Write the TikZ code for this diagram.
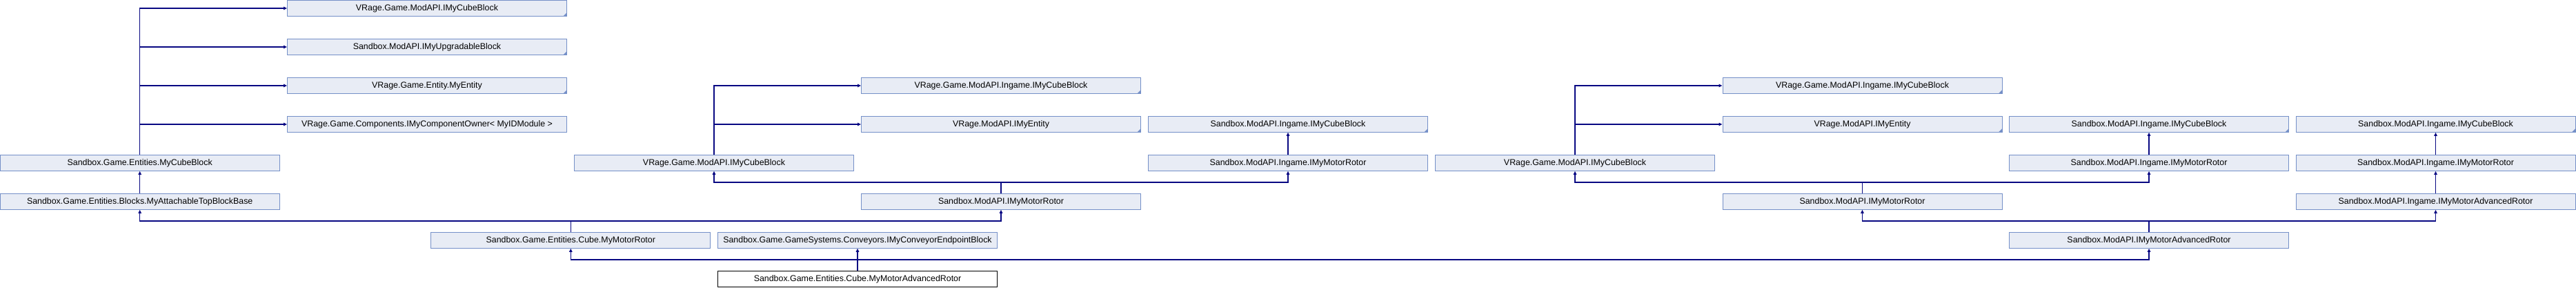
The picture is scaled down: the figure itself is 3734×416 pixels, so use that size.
\documentclass[tikz,border=0pt]{standalone}
\usepackage{fontspec}
\setmainfont{Liberation Sans}
\usepackage{tikz}
\usetikzlibrary{arrows.meta, calc}
\definecolor{boxfill}{RGB}{232, 236, 245}
\definecolor{boxline}{RGB}{117, 144, 200}
\definecolor{edgeblue}{RGB}{8, 8, 130}

\tikzset{
  cls/.style={draw=boxline, fill=boxfill, line width=1pt, minimum width=405pt, minimum height=22.6pt, inner sep=0pt, font=\fontsize{12.4}{14}\selectfont},
  extcls/.style={cls, path picture={\fill[boxline] (path picture bounding box.south east) -- ++(-5pt,0pt) -- ++(5pt,5pt) -- cycle;}},
  inherit/.style={draw=edgeblue, line width=1.2pt, -{Triangle[length=5pt, width=4.5pt]}},
}

\begin{document}
\begin{tikzpicture}[x=1pt, y=-1pt]
  \useasboundingbox (0,0) rectangle (3734,416);

  \node[extcls] (vgcb) at (619,12) {VRage.Game.ModAPI.IMyCubeBlock};
  \node[extcls] (upg) at (619,68) {Sandbox.ModAPI.IMyUpgradableBlock};
  \node[extcls] (ent) at (619,124) {VRage.Game.Entity.MyEntity};
  \node[cls] (owner) at (619,180) {VRage.Game.Components.IMyComponentOwner< MyIDModule >};
  \node[cls] (cube) at (202.7,236) {Sandbox.Game.Entities.MyCubeBlock};
  \node[cls] (attach) at (202.7,292) {Sandbox.Game.Entities.Blocks.MyAttachableTopBlockBase};
  \node[cls] (rotor) at (827.3,348) {Sandbox.Game.Entities.Cube.MyMotorRotor};
  \node[cls] (conv) at (1243,348) {Sandbox.Game.GameSystems.Conveyors.IMyConveyorEndpointBlock};
  \node[cls, draw=black, fill=white] (adv) at (1243,404) {Sandbox.Game.Entities.Cube.MyMotorAdvancedRotor};

  \node[cls] (mcb1) at (1035,236) {VRage.Game.ModAPI.IMyCubeBlock};
  \node[extcls] (igcb1) at (1451,124) {VRage.Game.ModAPI.Ingame.IMyCubeBlock};
  \node[extcls] (ment1) at (1451,180) {VRage.ModAPI.IMyEntity};
  \node[cls] (smr1) at (1451,292) {Sandbox.ModAPI.IMyMotorRotor};
  \node[extcls] (sicb1) at (1867,180) {Sandbox.ModAPI.Ingame.IMyCubeBlock};
  \node[cls] (simr1) at (1867,236) {Sandbox.ModAPI.Ingame.IMyMotorRotor};

  \node[cls] (mcb2) at (2283,236) {VRage.Game.ModAPI.IMyCubeBlock};
  \node[extcls] (igcb2) at (2699.5,124) {VRage.Game.ModAPI.Ingame.IMyCubeBlock};
  \node[extcls] (ment2) at (2699.5,180) {VRage.ModAPI.IMyEntity};
  \node[cls] (smr2) at (2699.5,292) {Sandbox.ModAPI.IMyMotorRotor};
  \node[extcls] (sicb2) at (3115,180) {Sandbox.ModAPI.Ingame.IMyCubeBlock};
  \node[cls] (simr2) at (3115,236) {Sandbox.ModAPI.Ingame.IMyMotorRotor};
  \node[cls] (smar) at (3115,348) {Sandbox.ModAPI.IMyMotorAdvancedRotor};
  \node[extcls] (sicb3) at (3530.5,180) {Sandbox.ModAPI.Ingame.IMyCubeBlock};
  \node[cls] (simr3) at (3530.5,236) {Sandbox.ModAPI.Ingame.IMyMotorRotor};
  \node[cls] (simar) at (3530.5,292) {Sandbox.ModAPI.Ingame.IMyMotorAdvancedRotor};

  \foreach \a/\b in {cube/vgcb, cube/upg, cube/ent, cube/owner, mcb1/igcb1, mcb1/ment1, mcb2/igcb2, mcb2/ment2}
    \draw[inherit] (\a.north) |- (\b.west);
  \foreach \a/\b in {attach/cube, rotor/attach, rotor/smr1, adv/rotor, adv/conv, adv/smar, smr1/mcb1, smr1/simr1, simr1/sicb1, smar/smr2, smar/simar, smr2/mcb2, smr2/simr2, simr2/sicb2, simar/simr3, simr3/sicb3}
    \draw[inherit] (\a.north) |- ($(\a.north)!.5!(\b.south)$) -| (\b.south);
\end{tikzpicture}
\end{document}
